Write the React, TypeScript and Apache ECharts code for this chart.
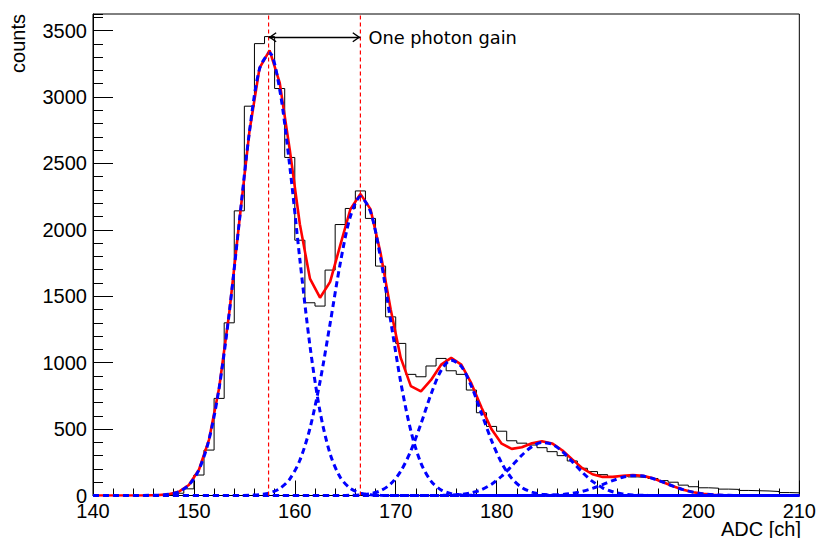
import React, { useEffect, useRef } from "react";
import * as echarts from "echarts";

// ---- axis ranges ----
const X_MIN = 140;
const X_MAX = 210;
const X_INTERVAL = 10;
const BIN_WIDTH = 1;
const Y_MAX = 3625;
const Y_INTERVAL = 500;
const Y_MINOR = 100;

// ---- histogram: counts per 1-ch bin, bins 140..209 ----
const counts = [
  0, 0, 0, 0, 0, 0, 2, 6, 17, 50,
  154, 342, 731, 1300, 2143, 2931, 3402, 3455, 3064, 2545,
  1922, 1451, 1426, 1697, 2040, 2161, 2293, 2086, 1727, 1345,
  1145, 912, 894, 975, 1032, 939, 912, 794, 623, 520,
  484, 412, 394, 380, 360, 330, 300, 260, 205, 180,
  157, 142, 149, 140, 135, 128, 112, 100, 78, 66,
  58, 55, 48, 46, 38, 36, 34, 30, 22, 20,
];

// ---- fit curves sampled at 140, bin centres 140.5..209.5, 210 ----
const fitTotal = [
  0,
  0, 0, 0, 0, 0, 1, 2.5, 9, 28, 79,
  194, 421, 809, 1373, 2061, 2738, 3217, 3351, 3109, 2603,
  2043, 1633, 1489, 1608, 1883, 2153, 2271, 2156, 1825, 1403,
  1036, 823, 784, 870, 985, 1036, 985, 844, 663, 498,
  390, 351, 363, 393, 409, 392, 341, 272, 206, 160,
  140, 140, 149, 154, 148, 129, 100, 70, 44, 25,
  12, 6, 2, 1, 0, 0, 0, 0, 0, 0,
  0,
];
const gauss1 = [
  0,
  0, 0, 0, 0, 0, 1, 2.5, 9, 28, 79,
  194, 421, 809, 1373, 2061, 2736, 3211, 3332, 3057, 2479,
  1778, 1128, 632, 313, 137, 53, 18, 5.5, 1.5, 0,
  0, 0, 0, 0, 0, 0, 0, 0, 0, 0,
  0, 0, 0, 0, 0, 0, 0, 0, 0, 0,
  0, 0, 0, 0, 0, 0, 0, 0, 0, 0,
  0, 0, 0, 0, 0, 0, 0, 0, 0, 0,
  0,
];
const gauss2 = [
  0,
  0, 0, 0, 0, 0, 0, 0, 0, 0, 0,
  0, 0, 0, 0, 0.5, 1.9, 6.4, 19, 52, 124,
  265, 505, 857, 1295, 1746, 2099, 2249, 2137, 1787, 1316,
  853, 487, 244, 108, 42, 14, 4.3, 1.1, 0, 0,
  0, 0, 0, 0, 0, 0, 0, 0, 0, 0,
  0, 0, 0, 0, 0, 0, 0, 0, 0, 0,
  0, 0, 0, 0, 0, 0, 0, 0, 0, 0,
  0,
];
const gauss3 = [
  0,
  0, 0, 0, 0, 0, 0, 0, 0, 0, 0,
  0, 0, 0, 0, 0, 0, 0, 0, 0, 0,
  0, 0, 0, 0, 0, 1.2, 4.3, 13, 36, 87,
  183, 336, 540, 762, 942, 1019, 972, 823, 619, 413,
  245, 129, 60, 25, 9.2, 3, 0.9, 0, 0, 0,
  0, 0, 0, 0, 0, 0, 0, 0, 0, 0,
  0, 0, 0, 0, 0, 0, 0, 0, 0, 0,
  0,
];
const gauss4 = [
  0,
  0, 0, 0, 0, 0, 0, 0, 0, 0, 0,
  0, 0, 0, 0, 0, 0, 0, 0, 0, 0,
  0, 0, 0, 0, 0, 0, 0, 0, 0, 0,
  0, 0, 0, 0, 1, 3.1, 8.4, 20, 44, 85,
  145, 222, 303, 368, 399, 386, 332, 255, 174, 106,
  58, 28, 12, 4.7, 1.6, 0.5, 0, 0, 0, 0,
  0, 0, 0, 0, 0, 0, 0, 0, 0, 0,
  0,
];
const gauss5 = [
  0,
  0, 0, 0, 0, 0, 0, 0, 0, 0, 0,
  0, 0, 0, 0, 0, 0, 0, 0, 0, 0,
  0, 0, 0, 0, 0, 0, 0, 0, 0, 0,
  0, 0, 0, 0, 0, 0, 0, 0, 0, 0,
  0, 0, 0, 0.4, 1.2, 3.3, 7.8, 16.5, 31.5, 54,
  82, 112, 137, 149, 146, 128, 100, 70, 44, 25,
  12, 5.6, 2.2, 0.8, 0.3, 0, 0, 0, 0, 0,
  0,
];

// ---- annotation ----
const peakPositions = [157.4, 166.5];
const arrowLevel = 3450;
const annotationText = "One photon gain";
const xTitle = "ADC [ch]";
const yTitle = "counts";

const FONT = "Liberation Sans, Arial, Helvetica, sans-serif";
const NOTE_FONT = "DejaVu Sans, Verdana, sans-serif";
const LABEL_SIZE = 20;

export default function App() {
  const ref = useRef<HTMLDivElement>(null);

  useEffect(() => {
    if (!ref.current) return;
    const chart = echarts.init(ref.current, undefined, { renderer: "svg" });

    const histData: number[][] = counts.map((v, i) => [X_MIN + i * BIN_WIDTH, v]);
    histData.push([X_MAX, counts[counts.length - 1]]);

    const sampleX: number[] = [X_MIN];
    for (let i = 0; i < counts.length; i++) sampleX.push(X_MIN + (i + 0.5) * BIN_WIDTH);
    sampleX.push(X_MAX);
    const pair = (arr: number[]) => arr.map((v, i) => [sampleX[i], v]);

    // open chevron whose tip sits at the centre of its bounding box
    const chevron =
      "path://M5,0 L5.02,0 L5,0.02 Z M5,8 L10,15.2 L8.9,16 L5,10.4 L1.1,16 L0,15.2 Z";

    const blue = (data: number[]) => ({
      type: "line",
      data: pair(data),
      smooth: 0.3,
      symbol: "none",
      lineStyle: { color: "#0000ff", width: 3, type: [6, 4] },
      z: 4,
      silent: true,
    });

    const peakLines = peakPositions.map((p) => ({
      type: "line",
      data: [
        [p, 0],
        [p, Y_MAX],
      ],
      symbol: "none",
      silent: true,
      color: "#ff0000",
      lineStyle: { color: "#ff0000", width: 1.2, type: [4, 3] },
      z: 6,
    }));

    chart.setOption({
      animation: false,
      backgroundColor: "#ffffff",
      textStyle: { fontFamily: FONT },
      grid: {
        left: 93,
        right: 18,
        top: 14,
        bottom: 42.5,
        show: true,
        borderColor: "#000",
        borderWidth: 1,
        backgroundColor: "transparent",
      },
      xAxis: {
        type: "value",
        min: X_MIN,
        max: X_MAX,
        interval: X_INTERVAL,
        axisLine: { show: true, lineStyle: { color: "#000", width: 1 } },
        axisTick: { show: true, inside: true, length: 15, lineStyle: { color: "#000", width: 1 } },
        minorTick: { show: true, splitNumber: 5, length: 7, lineStyle: { color: "#000", width: 1 } },
        axisLabel: { color: "#000", fontSize: LABEL_SIZE, fontFamily: FONT, margin: 5 },
        splitLine: { show: false },
        minorSplitLine: { show: false },
      },
      yAxis: [
        {
          type: "value",
          position: "left",
          min: 0,
          max: Y_MAX,
          interval: Y_INTERVAL,
          axisLine: { show: true, lineStyle: { color: "#000", width: 1 } },
          axisTick: { show: true, inside: true, length: 20, lineStyle: { color: "#000", width: 1 } },
          axisLabel: {
            color: "#000",
            fontSize: LABEL_SIZE,
            fontFamily: FONT,
            margin: 6,
            showMaxLabel: false,
            formatter: (v: number) => (v > 3500 ? "" : String(v)),
          },
          splitLine: { show: false },
        },
        {
          type: "value",
          position: "left",
          min: 0,
          max: Y_MAX,
          interval: Y_MINOR,
          axisLine: { show: false },
          axisTick: { show: true, inside: true, length: 10, lineStyle: { color: "#000", width: 1 } },
          axisLabel: { show: false },
          splitLine: { show: false },
        },
      ],
      series: [
        {
          type: "line",
          name: "histogram",
          data: histData,
          step: "end",
          symbol: "none",
          lineStyle: { color: "#000", width: 1 },
          z: 2,
          silent: true,
        },
        {
          type: "line",
          name: "fit",
          data: pair(fitTotal),
          symbol: "none",
          lineStyle: { color: "#ff0000", width: 2.6 },
          z: 3,
          silent: true,
        },
        blue(gauss1),
        blue(gauss2),
        blue(gauss3),
        blue(gauss4),
        blue(gauss5),
        ...peakLines,
        {
          type: "line",
          name: "gain",
          data: [],
          silent: true,
          markLine: {
            silent: true,
            symbol: [chevron, chevron],
            symbolSize: [10, 16],
            lineStyle: { color: "#000", width: 1.3, type: "solid" },
            itemStyle: { color: "#000" },
            label: {
              show: true,
              position: "end",
              distance: 8,
              formatter: annotationText,
              color: "#000",
              fontSize: 17.8,
              fontFamily: NOTE_FONT,
            },
            data: [
              [
                { coord: [peakPositions[0], arrowLevel] },
                { coord: [peakPositions[1], arrowLevel] },
              ],
            ],
            z: 7,
          },
        },
      ],
      graphic: [
        {
          type: "text",
          x: 801,
          y: 528.5,
          style: {
            text: xTitle,
            fill: "#000",
            fontSize: LABEL_SIZE,
            fontFamily: FONT,
            align: "right",
            verticalAlign: "middle",
            lineHeight: 14,
          },
        },
        {
          type: "text",
          x: 18,
          y: 14,
          rotation: Math.PI / 2,
          style: {
            text: yTitle,
            fill: "#000",
            fontSize: LABEL_SIZE,
            fontFamily: FONT,
            align: "right",
            verticalAlign: "middle",
          },
        },
      ],
    });

    return () => chart.dispose();
  }, []);

  return (
    <div
      ref={ref}
      style={{ position: "absolute", left: 0, top: 0, width: 819, height: 538, background: "#fff" }}
    />
  );
}
